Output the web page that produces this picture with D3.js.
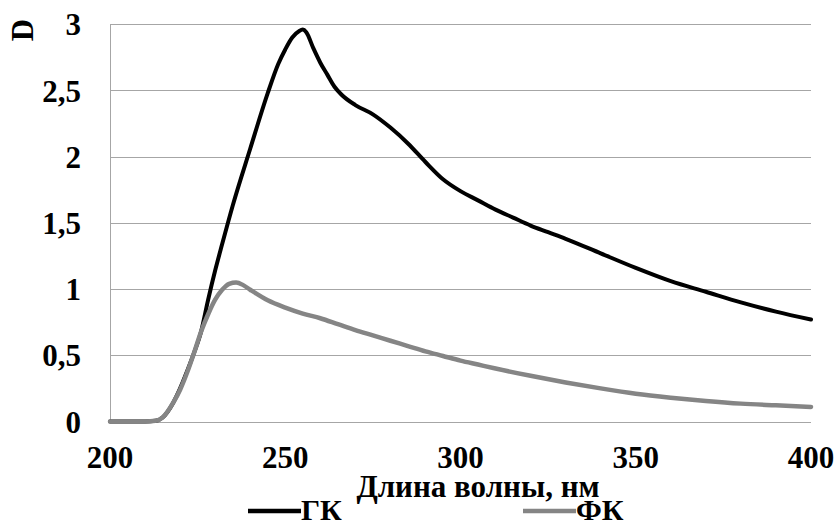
<!DOCTYPE html>
<html>
<head>
<meta charset="utf-8">
<script src="https://cdn.jsdelivr.net/npm/d3@7"></script>
<style>
  html, body { margin: 0; padding: 0; background: #fff; }
  svg { display: block; }
  text { font-family: "Liberation Serif", "Times New Roman", serif; font-weight: bold; fill: #000; }
</style>
</head>
<body>
<svg id="chart" width="837" height="523"></svg>
<script>
// Wavelength grid (nm) and absorbance for each sample
const wlGK = [200, 205, 210, 213, 215, 218, 220, 222, 224, 226, 228, 230, 232, 235, 240, 245, 248, 250, 252, 254, 255, 256, 258, 260, 262, 264, 266, 270, 275, 280, 285, 290, 295, 300, 305, 310, 315, 320, 325, 330, 340, 350, 360, 370, 380, 390, 400];
const dGK  = [0, 0, 0, 0.005, 0.03, 0.14, 0.25, 0.38, 0.52, 0.68, 0.92, 1.14, 1.34, 1.63, 2.06, 2.48, 2.70, 2.81, 2.90, 2.95, 2.96, 2.94, 2.82, 2.71, 2.62, 2.53, 2.47, 2.39, 2.32, 2.22, 2.10, 1.96, 1.83, 1.74, 1.67, 1.60, 1.54, 1.48, 1.43, 1.38, 1.27, 1.16, 1.06, 0.98, 0.90, 0.83, 0.77];

const wlFK = [200, 205, 210, 213, 215, 218, 220, 222, 224, 226, 228, 230, 232, 234, 236, 238, 240, 245, 250, 255, 260, 265, 270, 275, 280, 285, 290, 295, 300, 305, 310, 320, 330, 340, 350, 360, 370, 380, 390, 400];
const dFK  = [0, 0, 0, 0.005, 0.03, 0.14, 0.24, 0.37, 0.52, 0.68, 0.81, 0.92, 0.995, 1.04, 1.05, 1.03, 0.995, 0.915, 0.86, 0.815, 0.78, 0.735, 0.69, 0.65, 0.61, 0.57, 0.53, 0.495, 0.46, 0.43, 0.40, 0.345, 0.295, 0.25, 0.21, 0.18, 0.155, 0.135, 0.122, 0.11];

const xTicks = [200, 250, 300, 350, 400];
const yTicks = [0, 0.5, 1, 1.5, 2, 2.5, 3];
const yTickLabels = ["0", "0,5", "1", "1,5", "2", "2,5", "3"];

const seriesNames = ["ГК", "ФК"];
const xTitle = "Длина волны, нм";
const yTitle = "D";

const svg = d3.select("#chart");

const x = d3.scaleLinear().domain([200, 400]).range([110, 811]);
const y = d3.scaleLinear().domain([0, 3]).range([421.5, 24.3]);

const gridColor = "#a6a6a6";

// horizontal gridlines
svg.append("g")
  .selectAll("line")
  .data(yTicks)
  .join("line")
  .attr("x1", x(200)).attr("x2", x(400))
  .attr("y1", d => Math.round(y(d)) + 0.5)
  .attr("y2", d => Math.round(y(d)) + 0.5)
  .attr("stroke", gridColor)
  .attr("stroke-width", 1);

// vertical axis line
svg.append("line")
  .attr("x1", Math.round(x(200)) + 0.5).attr("x2", Math.round(x(200)) + 0.5)
  .attr("y1", Math.round(y(3)) + 0.5).attr("y2", Math.round(y(0)) + 0.5)
  .attr("stroke", gridColor)
  .attr("stroke-width", 1);

// y tick labels
svg.append("g")
  .selectAll("text")
  .data(yTicks)
  .join("text")
  .attr("x", 81)
  .attr("y", d => y(d) + 11)
  .attr("text-anchor", "end")
  .attr("font-size", 31)
  .text((d, i) => yTickLabels[i]);

// x tick labels
svg.append("g")
  .selectAll("text")
  .data(xTicks)
  .join("text")
  .attr("x", d => x(d))
  .attr("y", 468)
  .attr("text-anchor", "middle")
  .attr("font-size", 31)
  .text(d => d);

// axis titles
svg.append("text")
  .attr("transform", "translate(33,30) rotate(-90)")
  .attr("text-anchor", "middle")
  .attr("font-size", 31)
  .text(yTitle);

svg.append("text")
  .attr("x", 478)
  .attr("y", 497)
  .attr("text-anchor", "middle")
  .attr("font-size", 31)
  .text(xTitle);

// curves
const line = d3.line()
  .x(d => x(d[0]))
  .y(d => y(d[1]))
  .curve(d3.curveMonotoneX);

const gk = wlGK.map((w, i) => [w, dGK[i]]);
const fk = wlFK.map((w, i) => [w, dFK[i]]);

svg.append("path")
  .datum(gk)
  .attr("fill", "none")
  .attr("stroke", "#000")
  .attr("stroke-width", 4)
  .attr("stroke-linejoin", "round")
  .attr("stroke-linecap", "round")
  .attr("d", line);

svg.append("path")
  .datum(fk)
  .attr("fill", "none")
  .attr("stroke", "#858585")
  .attr("stroke-width", 4.5)
  .attr("stroke-linejoin", "round")
  .attr("stroke-linecap", "round")
  .attr("d", line);

// legend
const legend = [
  { name: seriesNames[0], color: "#000", x0: 248 },
  { name: seriesNames[1], color: "#858585", x0: 523 }
];
const lg = svg.append("g");
legend.forEach(l => {
  lg.append("line")
    .attr("x1", l.x0).attr("x2", l.x0 + 53)
    .attr("y1", 511).attr("y2", 511)
    .attr("stroke", l.color)
    .attr("stroke-width", 4.5);
  lg.append("text")
    .attr("x", l.x0 + 53)
    .attr("y", 520)
    .attr("font-size", 30)
    .text(l.name);
});
</script>
</body>
</html>
